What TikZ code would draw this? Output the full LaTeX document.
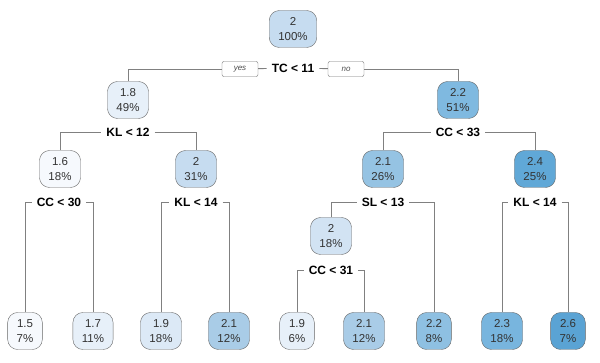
\documentclass[tikz,border=0pt]{standalone}
\usepackage{fontspec}
\setmainfont{Liberation Sans}
\usepackage{tikz}

\definecolor{fillA}{HTML}{F6F9FD}
\definecolor{fillB}{HTML}{E7F0F9}
\definecolor{fillC}{HTML}{DCE9F6}
\definecolor{fillD}{HTML}{C6DCF0}
\definecolor{fillE}{HTML}{D2E3F3}
\definecolor{fillF}{HTML}{A9CCE7}
\definecolor{fillG}{HTML}{95C3E3}
\definecolor{fillH}{HTML}{7FB9E0}
\definecolor{fillI}{HTML}{8EC0E2}
\definecolor{fillJ}{HTML}{78B5DE}
\definecolor{fillK}{HTML}{60A8D7}
\definecolor{fillL}{HTML}{5AA3D4}

\tikzset{
  tnode/.style={rectangle, draw=black!60, rounded corners=10pt, align=center, minimum height=37pt, inner xsep=9pt, font=\fontsize{11.5}{15}\selectfont, text=black!80},
  split/.style={font=\fontsize{12}{14}\selectfont\bfseries, inner xsep=5pt},
  tag/.style={rectangle, draw=black!55, rounded corners=2pt, font=\fontsize{8}{9}\selectfont\itshape, text=black!70, minimum width=36pt, minimum height=15pt, inner sep=1pt},
  edge/.style={draw=black!50, line width=0.9pt}
}

\begin{document}
\begin{tikzpicture}[x=1pt, y=-1pt]
      \useasboundingbox (0,0) rectangle (600,363);

      % Root
      \node[tnode, fill=fillD] (root) at (293,29) {2\\100\%};
      \node[split] (s1) at (293,68) {TC < 11};
      \node[tag] (yes) at (240,69) {yes};
      \node[tag] (no) at (346,69) {no};

      % Level 1
      \node[tnode, fill=fillB] (n2) at (128,100) {1.8\\49\%};
      \node[tnode, fill=fillH] (n3) at (458,100) {2.2\\51\%};
      \node[split] (s2) at (128,132) {KL < 12};
      \node[split] (s3) at (458,132) {CC < 33};

      % Level 2
      \node[tnode, fill=fillA] (n4) at (60,169) {1.6\\18\%};
      \node[tnode, fill=fillD] (n5) at (196,169) {2\\31\%};
      \node[tnode, fill=fillG] (n6) at (383,169) {2.1\\26\%};
      \node[tnode, fill=fillK] (n7) at (535,169) {2.4\\25\%};
      \node[split] (s4) at (59,202) {CC < 30};
      \node[split] (s5) at (196,202) {KL < 14};
      \node[split] (s6) at (383,202) {SL < 13};
      \node[split] (s7) at (535,202) {KL < 14};

      % Level 3
      \node[tnode, fill=fillE] (n12) at (331,236) {2\\18\%};
      \node[split] (s12) at (331,270) {CC < 31};

      % Leaves
      \node[tnode, fill=fillA] (l1) at (25,331) {1.5\\7\%};
      \node[tnode, fill=fillB] (l2) at (93,331) {1.7\\11\%};
      \node[tnode, fill=fillC] (l3) at (161,331) {1.9\\18\%};
      \node[tnode, fill=fillF] (l4) at (229,331) {2.1\\12\%};
      \node[tnode, fill=fillB] (l5) at (297,331) {1.9\\6\%};
      \node[tnode, fill=fillF] (l6) at (364,331) {2.1\\12\%};
      \node[tnode, fill=fillI] (l7) at (434,331) {2.2\\8\%};
      \node[tnode, fill=fillJ] (l8) at (502,331) {2.3\\18\%};
      \node[tnode, fill=fillL] (l9) at (568,331) {2.6\\7\%};

      % Edges
      \draw[edge] (n2.north) |- (yes);
      \draw[edge] (yes) -- (s1);
      \draw[edge] (s1) -- (no);
      \draw[edge] (no) -| (n3.north);
      \draw[edge] (n4.north) |- (s2);
      \draw[edge] (s2) -| (n5.north);
      \draw[edge] (n6.north) |- (s3);
      \draw[edge] (s3) -| (n7.north);
      \draw[edge] (l1.north) |- (s4);
      \draw[edge] (s4) -| (l2.north);
      \draw[edge] (l3.north) |- (s5);
      \draw[edge] (s5) -| (l4.north);
      \draw[edge] (n12.north) |- (s6);
      \draw[edge] (s6) -| (l7.north);
      \draw[edge] (l8.north) |- (s7);
      \draw[edge] (s7) -| (l9.north);
      \draw[edge] (l5.north) |- (s12);
      \draw[edge] (s12) -| (l6.north);
    \end{tikzpicture}
\end{document}
